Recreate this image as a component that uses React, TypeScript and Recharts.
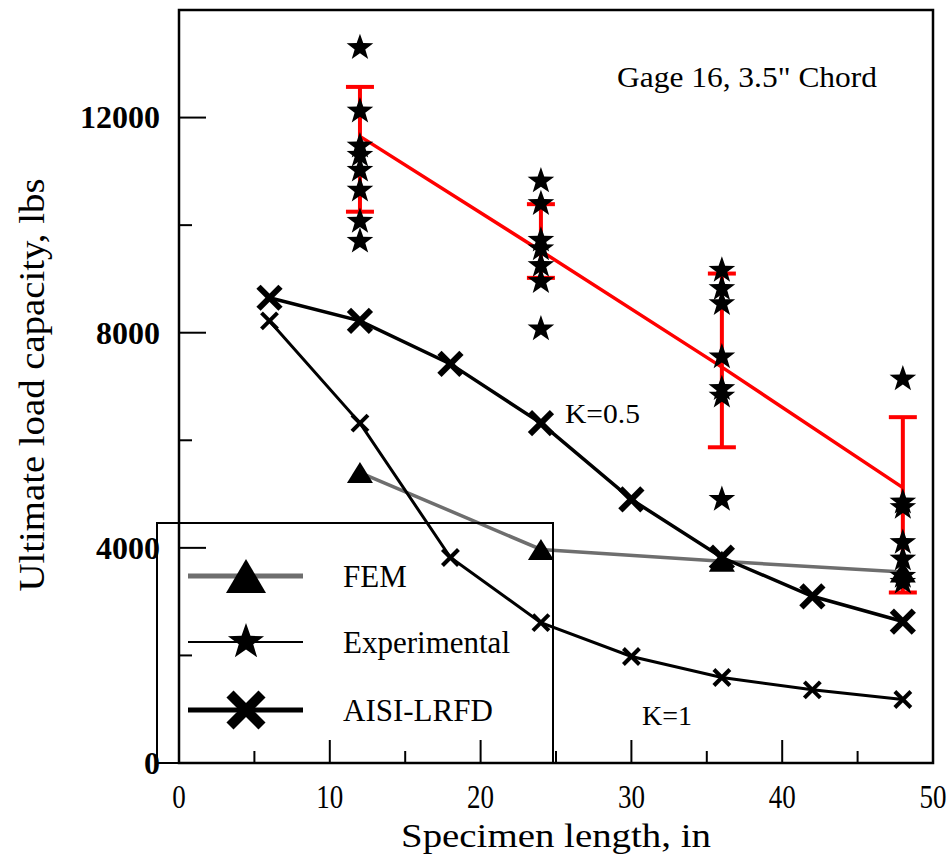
import React from 'react';
import { ComposedChart, Line, Scatter, XAxis, YAxis, ReferenceArea, ErrorBar } from 'recharts';

// AISI-LRFD predictions
const lengths = [6, 12, 18, 24, 30, 36, 42, 48];
const aisiK05 = [8650, 8220, 7420, 6320, 4900, 3820, 3100, 2630];
const aisiK1 = [8220, 6320, 3820, 2610, 1980, 1590, 1360, 1180];

// FEM results
const femLengths = [12, 24, 36, 48];
const femLoads = [5400, 3970, 3750, 3550];

// experimental mean and scatter band
const testLengths = [12, 24, 36, 48];
const meanLoads = [11650, 9520, 7360, 5120];
const bandLow = [10250, 9020, 5870, 3170];
const bandHigh = [12570, 10390, 9100, 6430];

// individual tests
const expLengths = [
  12, 12, 12, 12, 12, 12, 12, 12,
  24, 24, 24, 24, 24, 24, 24,
  36, 36, 36, 36, 36, 36, 36,
  48, 48, 48, 48, 48, 48, 48,
];
const expLoads = [
  13300, 12120, 11470, 11300, 11020, 10650, 10070, 9700,
  10820, 10400, 9720, 9560, 9250, 8950, 8070,
  9160, 8820, 8540, 7550, 6960, 6820, 4900,
  7140, 4850, 4750, 4100, 3790, 3470, 3360,
];

const xTicks = [0, 5, 10, 15, 20, 25, 30, 35, 40, 45, 50];
const yTicks = [0, 2000, 4000, 6000, 8000, 10000, 12000];

const FONT = '"Liberation Serif", "Times New Roman", serif';

const k05Data = lengths.map((x, i) => ({ x, y: aisiK05[i] }));
const k1Data = lengths.map((x, i) => ({ x, y: aisiK1[i] }));
const femData = femLengths.map((x, i) => ({ x, y: femLoads[i] }));
const meanData = testLengths.map((x, i) => ({
  x,
  y: meanLoads[i],
  err: [meanLoads[i] - bandLow[i], bandHigh[i] - meanLoads[i]],
}));
const expData = expLengths.map((x, i) => ({ x, y: expLoads[i] }));

const starPath = (cx: number, cy: number, ro: number, ri: number) => {
  let d = '';
  for (let i = 0; i < 10; i++) {
    const r = i % 2 === 0 ? ro : ri;
    const a = -Math.PI / 2 + (i * Math.PI) / 5;
    d += (i === 0 ? 'M' : 'L') + (cx + r * Math.cos(a)).toFixed(2) + ',' + (cy + r * Math.sin(a)).toFixed(2);
  }
  return d + 'Z';
};

const Cross = ({ cx, cy, h, w }: { cx: number; cy: number; h: number; w: number }) => (
  <g stroke="#000" strokeWidth={w}>
    <line x1={cx - h} y1={cy - h} x2={cx + h} y2={cy + h} />
    <line x1={cx - h} y1={cy + h} x2={cx + h} y2={cy - h} />
  </g>
);

const Tri = ({ cx, cy, w, h }: { cx: number; cy: number; w: number; h: number }) => (
  <path d={`M${cx},${cy - h / 2}L${cx + w / 2},${cy + h / 2}L${cx - w / 2},${cy + h / 2}Z`} fill="#000" />
);

const bigX = (p: any) => <Cross key={`bx-${p.index}`} cx={p.cx} cy={p.cy} h={11} w={6} />;
const smallX = (p: any) => <Cross key={`sx-${p.index}`} cx={p.cx} cy={p.cy} h={8} w={4} />;
const femDot = (p: any) => <Tri key={`tr-${p.index}`} cx={p.cx} cy={p.cy} w={26} h={21} />;
const starShape = (p: any) => <path d={starPath(p.cx, p.cy, 14, 5.6)} fill="#000" />;

const YTick = (p: any) => {
  const v = p.payload.value;
  const major = v % 4000 === 0;
  return (
    <g>
      <line x1={p.x} y1={p.y} x2={p.x + (major ? 27 : 13)} y2={p.y} stroke="#000" strokeWidth={2} />
      {major && (
        <text x={p.x - 19} y={p.y} dy="0.34em" textAnchor="end" fontFamily={FONT} fontSize={32} fontWeight="bold" fill="#000">
          {v}
        </text>
      )}
    </g>
  );
};

const XTick = (p: any) => {
  const v = p.payload.value;
  const major = v % 10 === 0;
  const s = String(v);
  return (
    <g>
      <line x1={p.x} y1={p.y} x2={p.x} y2={p.y - (major ? 23 : 12)} stroke="#000" strokeWidth={2} />
      {major && (
        <text x={p.x} y={p.y + 45} textAnchor="middle" fontFamily={FONT} fontSize={33} fill="#000"
          textLength={s.length * 13.5} lengthAdjust="spacingAndGlyphs">
          {s}
        </text>
      )}
    </g>
  );
};

const legendRows = [
  { label: 'FEM', y: 576 },
  { label: 'Experimental', y: 642 },
  { label: 'AISI-LRFD', y: 710 },
];

const Overlay = () => (
  <svg width={951} height={860} style={{ position: 'absolute', left: 0, top: 0, pointerEvents: 'none' }} fontFamily={FONT}>
    <rect x={157} y={523} width={396} height={240} fill="none" stroke="#000" strokeWidth={2} />
    <line x1={188} y1={576} x2={303} y2={576} stroke="#6e6e6e" strokeWidth={5} />
    <Tri cx={246} cy={576} w={40} h={34} />
    <line x1={188} y1={642} x2={303} y2={642} stroke="#000" strokeWidth={2} />
    <path d={starPath(246, 642, 19, 7.6)} fill="#000" />
    <line x1={188} y1={710} x2={303} y2={710} stroke="#000" strokeWidth={5} />
    <Cross cx={246} cy={710} h={16} w={10} />
    {legendRows.map((r) => (
      <text key={r.label} x={343} y={r.y + 11} fontSize={31} fill="#000">
        {r.label}
      </text>
    ))}
    <text x={617} y={87} fontSize={29} fill="#000" textLength={260} lengthAdjust="spacingAndGlyphs">
      Gage 16, 3.5" Chord
    </text>
    <text x={565} y={423} fontSize={28} fill="#000" textLength={75} lengthAdjust="spacingAndGlyphs">K=0.5</text>
    <text x={642} y={725} fontSize={28} fill="#000" textLength={50} lengthAdjust="spacingAndGlyphs">K=1</text>
    <text x={556} y={847} textAnchor="middle" fontSize={34} fill="#000" textLength={310} lengthAdjust="spacingAndGlyphs">
      Specimen length, in
    </text>
    <text x={0} y={0} transform="translate(44,385) rotate(-90)" textAnchor="middle" fontSize={35} fill="#000"
      textLength={413} lengthAdjust="spacingAndGlyphs">
      Ultimate load capacity, lbs
    </text>
  </svg>
);

export default function App() {
  return (
    <div style={{ position: 'absolute', left: 0, top: 0, width: 951, height: 860, background: '#fff' }}>
      <ComposedChart width={951} height={860} margin={{ top: 10, right: 18, bottom: 0, left: 0 }}>
        <XAxis dataKey="x" type="number" domain={[0, 50]} ticks={xTicks} interval={0} height={97}
          tickSize={0} tickMargin={0} tickLine={false} axisLine={false} tick={<XTick />} />
        <YAxis type="number" domain={[0, 14000]} ticks={yTicks} interval={0} width={179}
          tickSize={0} tickMargin={0} tickLine={false} axisLine={false} tick={<YTick />} />
        <ReferenceArea x1={0} x2={50} y1={0} y2={14000} fill="none" stroke="#000" strokeWidth={2.5} ifOverflow="visible" />
        <Line data={femData} dataKey="y" stroke="#6e6e6e" strokeWidth={3.5} dot={femDot} isAnimationActive={false} />
        <Line data={k1Data} dataKey="y" stroke="#000" strokeWidth={3} dot={smallX} isAnimationActive={false} />
        <Line data={k05Data} dataKey="y" stroke="#000" strokeWidth={3.5} dot={bigX} isAnimationActive={false} />
        <Scatter data={expData} dataKey="y" shape={starShape} isAnimationActive={false} />
        <Line data={meanData} dataKey="y" stroke="#ff0000" strokeWidth={3.5} dot={false} isAnimationActive={false}>
          <ErrorBar dataKey="err" width={14} stroke="#ff0000" strokeWidth={4} direction="y" />
        </Line>
      </ComposedChart>
      <Overlay />
    </div>
  );
}
